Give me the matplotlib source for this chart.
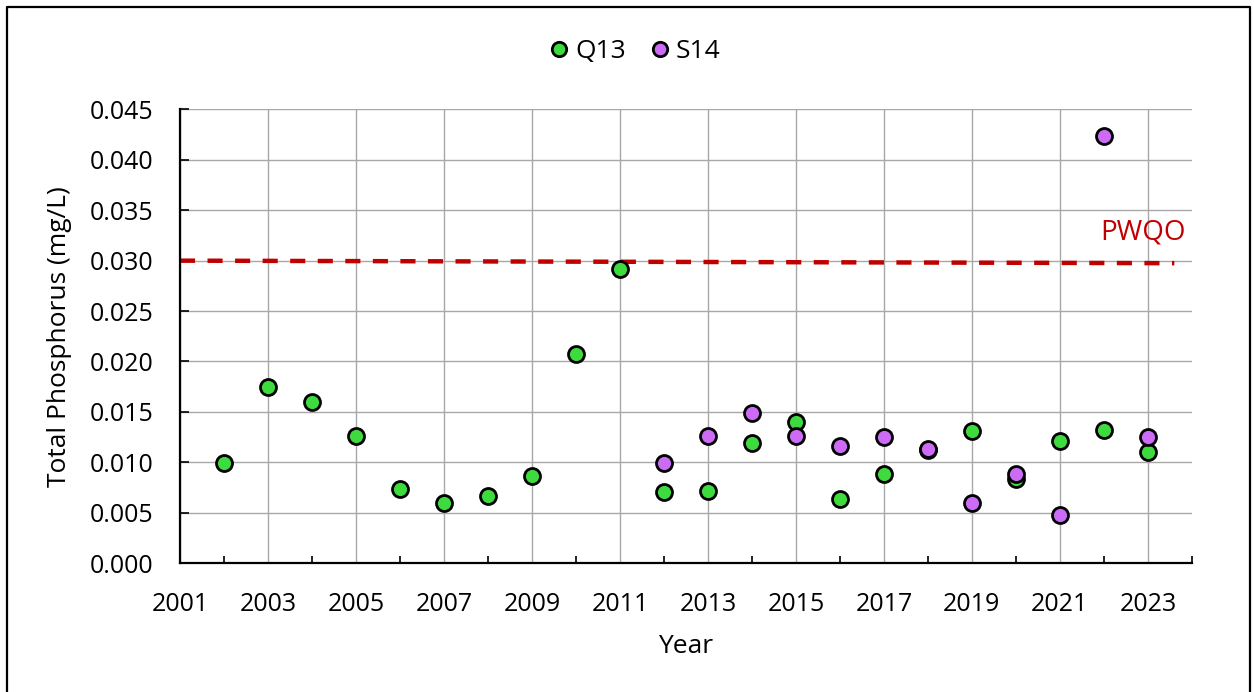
import matplotlib
matplotlib.use("Agg")
import matplotlib.pyplot as plt
import matplotlib.ticker as mtick
from matplotlib.lines import Line2D

plt.rcParams['font.family'] = ['Open Sans', 'DejaVu Sans']

# Total phosphorus (mg/L) by year
q13_years = [2002, 2003, 2004, 2005, 2006, 2007, 2008, 2009, 2010, 2011, 2012,
             2013, 2014, 2015, 2016, 2017, 2018, 2019, 2020, 2021, 2022, 2023]
q13_tp = [0.0099, 0.0175, 0.0160, 0.0126, 0.0073, 0.0060, 0.0066, 0.0086, 0.0207, 0.0292, 0.0070,
          0.0071, 0.0119, 0.0140, 0.0064, 0.0088, 0.0112, 0.0131, 0.0083, 0.0121, 0.0132, 0.0110]

s14_years = [2012, 2013, 2014, 2015, 2016, 2017, 2018, 2019, 2020, 2021, 2022, 2023]
s14_tp = [0.0099, 0.0126, 0.0149, 0.0126, 0.0116, 0.0125, 0.0113, 0.0060, 0.0088, 0.0048, 0.0424, 0.0125]

# PWQO guideline line (as drawn, slight slope at the end)
pwqo_x = [2001, 2023.6]
pwqo_y = [0.0300, 0.02975]

fig = plt.figure(figsize=(12.54, 6.92), dpi=100)
ax = fig.add_axes([0.1435, 0.1864, 0.807, 0.6554])

ax.plot(pwqo_x, pwqo_y, color='#C00000', lw=3.2, dashes=(3.4, 2.8), zorder=2)
ax.text(2023.85, 0.0314, 'PWQO', color='#C00000', fontsize=20, ha='right', va='bottom')

ax.plot(q13_years, q13_tp, ls='none', marker='o', ms=11.5, mfc='#3EDB3E', mec='black',
        mew=2.0, label='Q13', zorder=3)
ax.plot(s14_years, s14_tp, ls='none', marker='o', ms=11.5, mfc='#CC6CF6', mec='black',
        mew=2.0, label='S14', zorder=4)

ax.set_xlim(2001, 2024)
ax.set_ylim(0, 0.045)
ax.xaxis.set_major_locator(mtick.FixedLocator(range(2001, 2024, 2)))
ax.xaxis.set_minor_locator(mtick.FixedLocator(range(2002, 2025, 2)))
ax.yaxis.set_major_locator(mtick.MultipleLocator(0.005))
ax.yaxis.set_major_formatter(mtick.StrMethodFormatter('{x:.3f}'))

ax.grid(True, which='major', color='#A8A8A8', lw=1.0)
ax.set_axisbelow(True)
for s in ['top', 'right']:
    ax.spines[s].set_visible(False)
for s in ['left', 'bottom']:
    ax.spines[s].set_linewidth(1.6)

ax.tick_params(axis='y', direction='in', length=6.5, width=1.2, labelsize=18, pad=19)
ax.tick_params(axis='x', which='both', direction='in', length=5, width=1.2, labelsize=18, pad=21)
ax.tick_params(axis='x', which='major', length=0)

ax.set_xlabel('Year', fontsize=19, labelpad=12)
ax.set_ylabel('Total Phosphorus (mg/L)', fontsize=19, labelpad=13)

fig.legend(loc='center', bbox_to_anchor=(0.505, 0.925), ncol=2, frameon=False, fontsize=19,
           handletextpad=0.1, columnspacing=0.8, handlelength=1.0, markerscale=0.9)

# frame around the whole picture
x0, x1 = 7 / 1254, 1250 / 1254
y1 = 1 - 7 / 692
fig.add_artist(Line2D([x0, x0, x1, x1], [-0.01, y1, y1, -0.01], color='black', lw=1.6,
                      transform=fig.transFigure))

fig.savefig('out.png', dpi=100)
